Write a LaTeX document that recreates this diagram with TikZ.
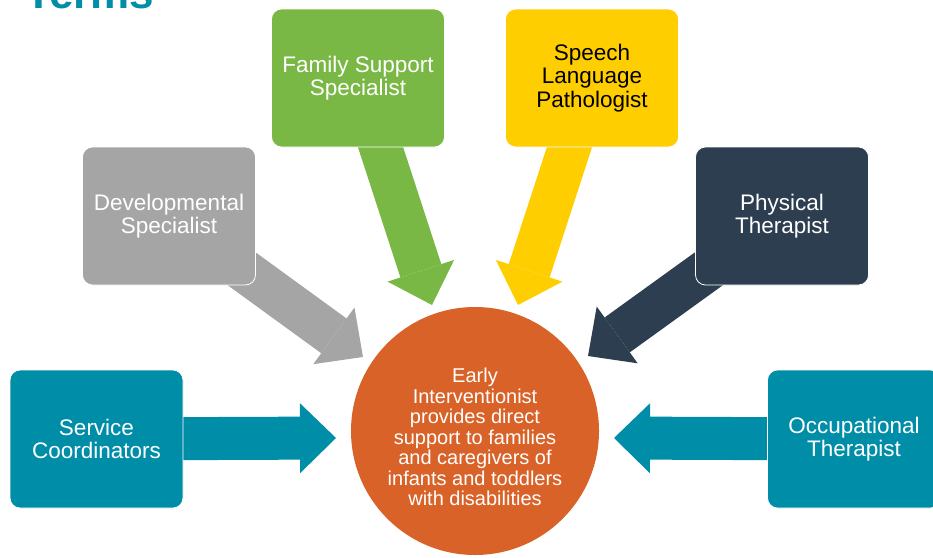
\documentclass[tikz,border=0pt]{standalone}
\usepackage{fontspec}
\setmainfont{Liberation Sans}
\usetikzlibrary{arrows.meta,backgrounds}

\definecolor{eiteal}{HTML}{008DA8}
\definecolor{eigray}{HTML}{A5A5A5}
\definecolor{eigreen}{HTML}{7AB846}
\definecolor{eiyellow}{HTML}{FFCE00}
\definecolor{einavy}{HTML}{2C3E50}
\definecolor{eiorange}{HTML}{D96228}

\tikzset{
  role/.style={rounded corners=10pt, draw=white, line width=0.8pt,
    minimum width=173pt, minimum height=138pt, align=center, text=white,
    font=\fontsize{22.5}{23.5}\selectfont},
  hub/.style={circle, fill=eiorange, minimum size=248pt, inner sep=0pt},
  hubtext/.style={align=center, text=white, font=\fontsize{20}{20.5}\selectfont},
  feed/.style={line width=43pt,
    -{Triangle[length=36pt,width=70pt,line width=0pt]}}
}

\begin{document}
\begin{tikzpicture}[x=1pt,y=-1pt]
  \useasboundingbox (0,0) rectangle (933,557);
  \node[anchor=base west, text=eiteal, font=\fontsize{44}{44}\selectfont\bfseries] (terms) at (22,8) {Terms};
  % the roles round the hub
  \node[role, fill=eiteal] (sc) at (96.5,439) {Service\\Coordinators};
  \node[role, fill=eigray] (dev) at (169,216) {Developmental\\Specialist};
  \node[role, fill=eigreen] (fam) at (358,78) {Family Support\\Specialist};
  \node[role, fill=eiyellow, text=black] (slp) at (592,78) {Speech\\Language\\Pathologist};
  \node[role, fill=einavy] (pt) at (782,216) {Physical\\Therapist};
  \node[role, fill=eiteal] (ot) at (854,439) {Occupational\\Therapist};
  \node[hub] (ei) at (475,431) {};
  \node[hubtext] (eitext) at (475,437) {Early\\Interventionist\\provides direct\\support to families\\and caregivers of\\infants and toddlers\\with disabilities};
  % arrow tips just short of the circle
  \coordinate (scTip) at (336,438);
  \coordinate (devTip) at (363,357);
  \coordinate (famTip) at (432,305);
  \coordinate (slpTip) at (518,305);
  \coordinate (ptTip) at (588,356);
  \coordinate (otTip) at (614,438);
  \begin{scope}[on background layer]
    \draw[feed, eiteal] (sc.center) -- (scTip);
    \draw[feed, eigray] (dev.center) -- (devTip);
    \draw[feed, eigreen] (fam.center) -- (famTip);
    \draw[feed, eiyellow] (slp.center) -- (slpTip);
    \draw[feed, einavy] (pt.center) -- (ptTip);
    \draw[feed, eiteal] (ot.center) -- (otTip);
  \end{scope}
\end{tikzpicture}
\end{document}
